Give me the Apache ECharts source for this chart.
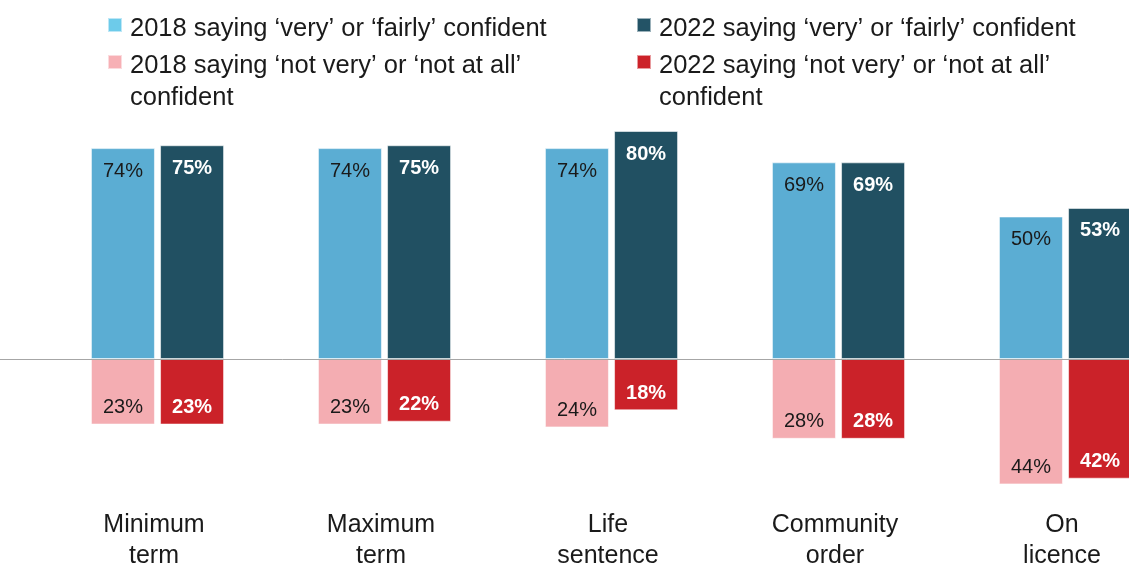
<!DOCTYPE html>
<html>
<head>
<meta charset="utf-8">
<script src="https://cdn.jsdelivr.net/npm/echarts@6/dist/echarts.min.js"></script>
<style>
  html, body { margin: 0; padding: 0; background: #ffffff; }
  #chart { width: 1129px; height: 567px; }
</style>
</head>
<body>
<div id="chart"></div>
<script>
// Sentence types
const categories = ['Minimum\nterm', 'Maximum\nterm', 'Life\nsentence', 'Community\norder', 'On\nlicence'];

// Series names
const name2018Yes = '2018 saying ‘very’ or ‘fairly’ confident';
const name2018No = '2018 saying ‘not very’ or ‘not at all’ confident';
const name2022Yes = '2022 saying ‘very’ or ‘fairly’ confident';
const name2022No = '2022 saying ‘not very’ or ‘not at all’ confident';

// Percentages (the "not confident" shares are drawn below zero)
const confident2018 = [74, 74, 74, 69, 50];
const notConfident2018 = [-23, -23, -24, -28, -44];
const confident2022 = [75, 75, 80, 69, 53];
const notConfident2022 = [-23, -22, -18, -28, -42];

const FONT = '"Liberation Sans", Arial, sans-serif';

const chart = echarts.init(document.getElementById('chart'), null, { renderer: 'canvas' });

function pct(p) { return Math.abs(p.value) + '%'; }

function barSeries(name, stack, data, color, labelColor, bold, position, distance) {
  return {
    name: name,
    type: 'bar',
    stack: stack,
    data: data,
    barWidth: 64,
    barGap: '8%',
    itemStyle: { color: color, borderColor: 'rgba(255,255,255,0.55)', borderWidth: 1 },
    label: {
      show: true,
      position: position,
      distance: distance,
      formatter: pct,
      color: labelColor,
      fontSize: 20,
      fontWeight: bold ? 'bold' : 'normal',
      fontFamily: FONT
    },
    emphasis: { disabled: true }
  };
}

// Legend entry: a spacer line above the text keeps the square level with the first text line
function legendBox(left, top, name, color, twoLines) {
  return {
    left: left,
    top: top,
    padding: 0,
    orient: 'vertical',
    icon: 'rect',
    itemWidth: 14,
    itemHeight: 14,
    selectedMode: false,
    data: [{ name: name, itemStyle: { color: color } }],
    formatter: function (n) {
      if (twoLines) {
        const parts = n.replace(/ confident$/, '\nconfident').split('\n');
        return '{s40| }\n{t|' + parts[0] + '}\n{t|' + parts[1] + '}';
      }
      return '{s8| }\n{t|' + n + '}';
    },
    textStyle: {
      color: '#1a1a1a',
      fontFamily: FONT,
      rich: {
        s8: { fontSize: 4, lineHeight: 8 },
        s40: { fontSize: 4, lineHeight: 40 },
        t: { fontSize: 25.5, lineHeight: 32, color: '#1a1a1a', fontFamily: FONT, padding: [0, 0, 0, 3] }
      }
    }
  };
}

const series = [
  barSeries(name2018Yes, '2018', confident2018, '#5badd3', '#1a1a1a', false, 'insideTop', 13),
  barSeries(name2018No, '2018', notConfident2018, '#f4adb2', '#1a1a1a', false, 'insideBottom', 7),
  barSeries(name2022Yes, '2022', confident2022, '#215062', '#ffffff', true, 'insideTop', 13),
  barSeries(name2022No, '2022', notConfident2022, '#cb2229', '#ffffff', true, 'insideBottom', 7)
];

// Zero line across the full width
series[0].markLine = {
  silent: true,
  symbol: 'none',
  label: { show: false },
  lineStyle: { color: '#a6a6a6', width: 1, type: 'solid' },
  data: [[{ x: 0, yAxis: 0 }, { x: '100%', yAxis: 0 }]]
};

chart.setOption({
  animation: false,
  backgroundColor: '#ffffff',
  legend: [
    legendBox(107, 7, name2018Yes, '#6dcbea', false),
    legendBox(107, 28, name2018No, '#f7b0b5', true),
    legendBox(636, 7, name2022Yes, '#235366', false),
    legendBox(636, 28, name2022No, '#cc2229', true)
  ],
  grid: { left: 44, width: 1135, top: 102.5, bottom: 65.5, outerBoundsMode: 'none', containLabel: false },
  xAxis: {
    type: 'category',
    data: categories,
    axisLine: { show: false, onZero: false },
    axisTick: { show: false },
    axisLabel: {
      margin: 8,
      fontSize: 25,
      lineHeight: 31,
      color: '#1a1a1a',
      fontFamily: FONT,
      interval: 0,
      padding: [0, 7, 0, 0]
    }
  },
  yAxis: {
    type: 'value',
    min: -50,
    max: 90,
    show: false,
    splitLine: { show: false }
  },
  series: series
});
</script>
</body>
</html>
